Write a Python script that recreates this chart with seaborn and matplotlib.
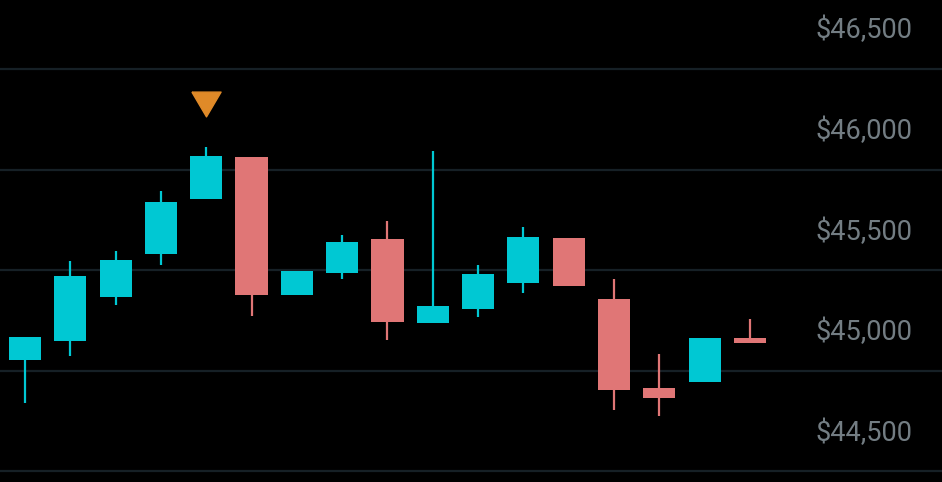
import matplotlib
matplotlib.use("Agg")
import matplotlib.pyplot as plt
import matplotlib.transforms as mtransforms
import numpy as np
import pandas as pd
import seaborn as sns

# --- data ---
opens = [45054, 45148, 45367, 45581, 45854, 46063, 45377, 45486, 45655,
         45238, 45307, 45436, 45660, 45357, 44915, 44944, 45163]
closes = [45168, 45473, 45551, 45839, 46068, 45377, 45496, 45640, 45243,
          45322, 45481, 45665, 45422, 44905, 44865, 45163, 45138]
highs = [45168, 45546, 45595, 45894, 46112, 46063, 45496, 45675, 45745,
         46092, 45526, 45715, 45660, 45456, 45084, 45163, 45257]
lows = [44840, 45074, 45327, 45526, 45854, 45272, 45377, 45456, 45153,
        45238, 45267, 45387, 45422, 44805, 44775, 44944, 45138]
price_ticks = [44500, 45000, 45500, 46000, 46500]
marker_idx = 4

df = pd.DataFrame({"open": opens, "close": closes, "high": highs, "low": lows})
df["up"] = df["close"] >= df["open"]

# --- style ---
sns.set_theme(style="dark", rc={"axes.facecolor": "black", "figure.facecolor": "black"})
plt.rcParams['font.family'] = ['Roboto', 'DejaVu Sans']

UP = "#00C8D3"
DOWN = "#E07676"
GRID = "#162026"
LABEL = "#737D83"

fig = plt.figure(figsize=(9.42, 4.82), dpi=100)
ax = fig.add_axes([0, 0, 1, 1])
ax.set_facecolor("black")

x = np.arange(len(df))
colors = np.where(df["up"], UP, DOWN)

for p in price_ticks:
    ax.axhline(p, color=GRID, lw=1.6, zorder=0)

ax.vlines(x, df["low"], df["high"], colors=colors, lw=1.6, zorder=2)
body_lo = np.minimum(df["open"], df["close"])
body_h = np.maximum(np.abs(df["close"] - df["open"]), 20)
ax.bar(x, body_h, bottom=body_lo, width=0.71, color=colors, linewidth=0, zorder=3)

# signal marker above candle high
tri = [(-1, 0.85), (1, 0.85), (0, -0.85), (-1, 0.85)]
off = mtransforms.offset_copy(ax.transData, fig=fig, y=43, units='dots')
ax.plot([marker_idx], [df["high"][marker_idx]], marker=tri, ms=21,
        color="#E08A28", ls="none", transform=off, zorder=4)

# price labels on the right, drawn above their gridlines
for p in price_ticks:
    ax.annotate(f"${p:,}", xy=(0.969, p), xycoords=ax.get_yaxis_transform(),
                xytext=(0, 27.5), textcoords="offset points",
                ha="right", va="center", fontsize=19.5, color=LABEL)

ax.set_xlim(-0.552, 20.24)
ax.set_ylim(44447, 46843)
ax.set_xticks([])
ax.set_yticks([])
for s in ax.spines.values():
    s.set_visible(False)

fig.savefig("out.png", dpi=100, facecolor="black")
